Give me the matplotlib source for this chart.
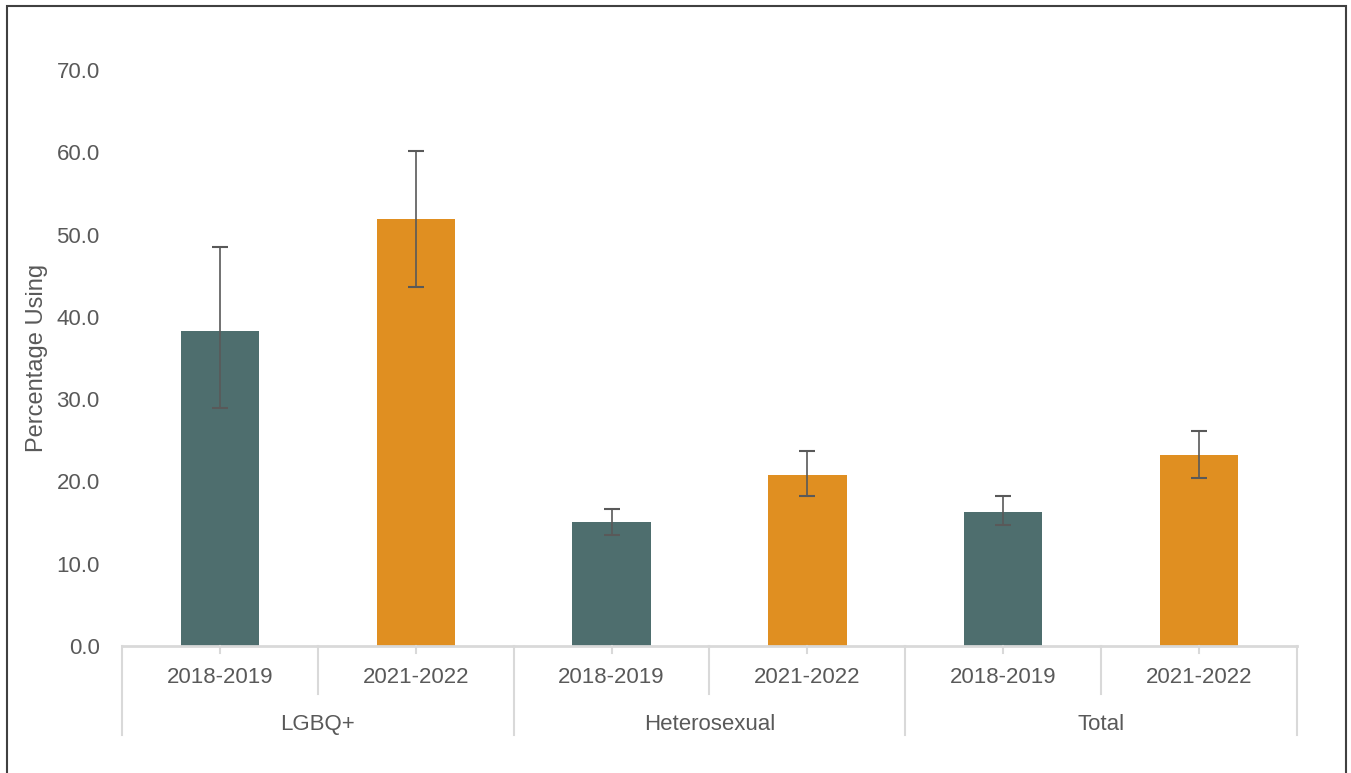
import matplotlib
matplotlib.use("Agg")
import matplotlib.pyplot as plt
import matplotlib.transforms as mtransforms
from matplotlib.patches import Rectangle

plt.rcParams["font.family"] = ["Liberation Sans", "DejaVu Sans"]

groups = ["LGBQ+", "Heterosexual", "Total"]
periods = ["2018-2019", "2021-2022"]
pct = [38.3, 51.9, 15.1, 20.8, 16.3, 23.2]
ci_low = [28.9, 43.6, 13.5, 18.2, 14.7, 20.4]
ci_high = [48.5, 60.2, 16.7, 23.7, 18.2, 26.1]
colors = ["#4e6e6e", "#e08f21"]

W, H = 1351, 773
fig = plt.figure(figsize=(W / 100, H / 100), dpi=100)
ax = fig.add_axes([122 / W, 1 - 646 / H, (1297 - 122) / W, (646 - 70) / H])

n = len(pct)
x = list(range(n))
bar_colors = [colors[i % 2] for i in x]
err = [[v - lo for v, lo in zip(pct, ci_low)], [hi - v for v, hi in zip(pct, ci_high)]]
ax.bar(x, pct, width=0.4, color=bar_colors, zorder=2)
ax.errorbar(x, pct, yerr=err, fmt="none", ecolor="#595959", elinewidth=1.2,
            capsize=6, capthick=1.5, zorder=3)

ax.set_xlim(-0.5, n - 0.5)
ax.set_ylim(0, 70)
ax.set_yticks(range(0, 71, 10))
ax.set_yticklabels([f"{v:.1f}" for v in range(0, 71, 10)])
ax.tick_params(axis="y", length=0, pad=16, labelsize=16, labelcolor="#595959")
ax.set_xticks([])
for s in ["top", "right", "left", "bottom"]:
    ax.spines[s].set_visible(False)
ax.set_ylabel("Percentage Using", fontsize=17, color="#595959", labelpad=6)

# category axis drawn by hand (two-level labels)
tr = mtransforms.blended_transform_factory(ax.transData, ax.transAxes)
lc = "#d9d9d9"
ax.plot([-0.5, n - 0.5], [0, 0], color=lc, lw=2, transform=tr, clip_on=False)
for b in range(n + 1):
    xb = b - 0.5
    y_end = -0.1545 if b % 2 == 0 else -0.0833
    ax.plot([xb, xb], [0, y_end], color=lc, lw=1.5, transform=tr, clip_on=False)
for i in x:
    ax.plot([i, i], [0, -0.012], color=lc, lw=1.5, transform=tr, clip_on=False)
    ax.text(i, -0.0555, periods[i % 2], transform=tr, ha="center", va="center",
            fontsize=16, color="#595959")
for g, name in enumerate(groups):
    ax.text(2 * g + 0.5, -0.136, name, transform=tr, ha="center", va="center",
            fontsize=16, color="#595959")

# outer frame
fig.patches.append(Rectangle((7 / W, -0.05), (1346 - 7) / W, 1 - 6 / H + 0.05,
                             transform=fig.transFigure, fill=False,
                             edgecolor="#404040", lw=1.5))

fig.savefig("out.png", dpi=100)
